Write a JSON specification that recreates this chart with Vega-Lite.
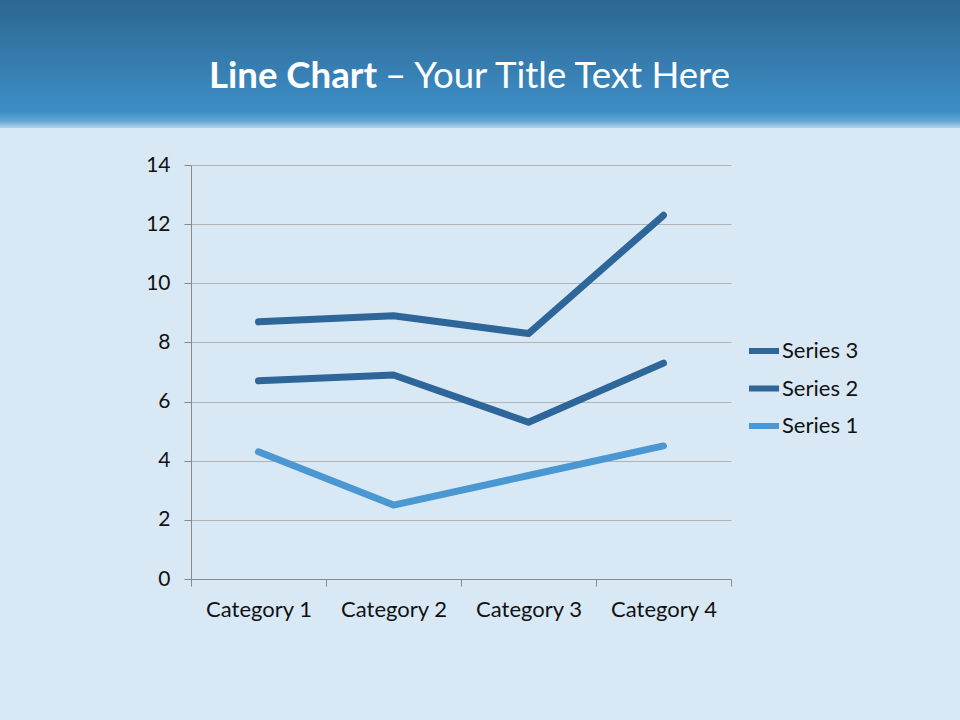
{
  "$schema": "https://vega.github.io/schema/vega-lite/v6.json",
  "background": "#d8e9f5",
  "padding": {"left": 0, "top": 0, "right": 0, "bottom": 110},
  "spacing": 26,
  "config": {"font": "Lato", "view": {"stroke": null}},
  "vconcat": [
    {
      "width": 960,
      "height": 128,
      "data": {"values": [{"lead": "Line Chart", "rest": "– Your Title Text Here"}]},
      "layer": [
        {
          "mark": {
            "type": "rect",
            "color": {
              "gradient": "linear", "x1": 0, "y1": 0, "x2": 0, "y2": 1,
              "stops": [
                {"offset": 0, "color": "#2c6791"},
                {"offset": 0.88, "color": "#3e8ec7"},
                {"offset": 0.95, "color": "#6aa9d7"},
                {"offset": 1, "color": "#b4d4ec"}
              ]
            }
          },
          "encoding": {}
        },
        {
          "mark": {"type": "text", "align": "right", "baseline": "alphabetic", "dx": -103, "dy": 24, "font": "Lato", "fontSize": 36.6, "fontWeight": "bold", "color": "#ffffff"},
          "encoding": {"text": {"field": "lead"}}
        },
        {
          "mark": {"type": "text", "align": "left", "baseline": "alphabetic", "dx": -95, "dy": 24, "font": "Lato", "fontSize": 36.6, "fontWeight": "normal", "color": "#ffffff"},
          "encoding": {"text": {"field": "rest"}}
        }
      ]
    },
    {
      "spacing": 0,
      "hconcat": [
        {
          "width": 145,
          "height": 414,
          "data": {"values": [{"spacer": 1}]},
          "mark": {"type": "rect", "opacity": 0},
          "encoding": {}
        },
        {
          "width": 540,
          "height": 414,
          "data": {
            "values": [
              {"Category": "Category 1", "Series": "Series 1", "Value": 4.3},
              {"Category": "Category 2", "Series": "Series 1", "Value": 2.5},
              {"Category": "Category 3", "Series": "Series 1", "Value": 3.5},
              {"Category": "Category 4", "Series": "Series 1", "Value": 4.5},
              {"Category": "Category 1", "Series": "Series 2", "Value": 6.7},
              {"Category": "Category 2", "Series": "Series 2", "Value": 6.9},
              {"Category": "Category 3", "Series": "Series 2", "Value": 5.3},
              {"Category": "Category 4", "Series": "Series 2", "Value": 7.3},
              {"Category": "Category 1", "Series": "Series 3", "Value": 8.7},
              {"Category": "Category 2", "Series": "Series 3", "Value": 8.9},
              {"Category": "Category 3", "Series": "Series 3", "Value": 8.3},
              {"Category": "Category 4", "Series": "Series 3", "Value": 12.3}
            ]
          },
          "mark": {"type": "line", "strokeWidth": 7, "strokeCap": "round", "strokeJoin": "round"},
          "encoding": {
            "x": {
              "field": "Category",
              "type": "nominal",
              "scale": {"paddingInner": 0, "paddingOuter": 0},
              "axis": {
                "title": null,
                "labelAngle": 0,
                "tickBand": "extent",
                "tickSize": 7,
                "labelPadding": 13,
                "labelFont": "Lato",
                "labelFontSize": 22,
                "labelColor": "#111111",
                "domainColor": "#8a8a8a",
                "tickColor": "#8a8a8a",
                "grid": false
              }
            },
            "y": {
              "field": "Value",
              "type": "quantitative",
              "scale": {"domain": [0, 14]},
              "axis": {
                "values": [0, 2, 4, 6, 8, 10, 12, 14],
                "title": null,
                "grid": true,
                "gridColor": "#b3b3b3",
                "domainColor": "#8a8a8a",
                "tickColor": "#8a8a8a",
                "tickSize": 7,
                "labelPadding": 14,
                "labelFont": "Lato",
                "labelFontSize": 21,
                "labelColor": "#111111"
              }
            },
            "color": {
              "field": "Series",
              "type": "nominal",
              "scale": {"domain": ["Series 3", "Series 2", "Series 1"], "range": ["#2f669a", "#2f669a", "#4a97d1"]},
              "legend": {
                "title": null,
                "orient": "none",
                "legendX": 746,
                "legendY": 333,
                "symbolType": "stroke",
                "symbolSize": 900,
                "symbolStrokeWidth": 6,
                "labelFont": "Lato",
                "labelFontSize": 22,
                "labelColor": "#111111",
                "labelOffset": 0,
                "rowPadding": 7.5
              }
            }
          }
        }
      ]
    }
  ]
}
